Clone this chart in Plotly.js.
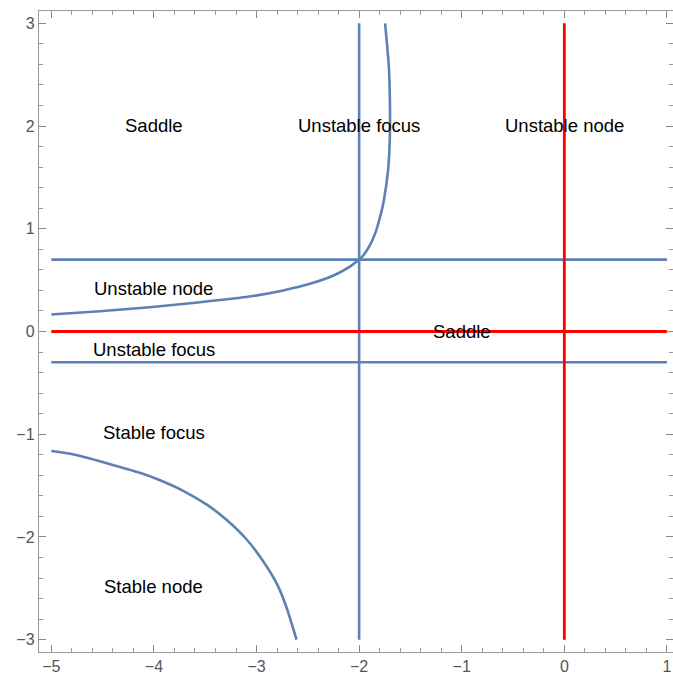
<!DOCTYPE html>
<html>
<head>
<meta charset="utf-8">
<script src="https://cdn.plot.ly/plotly-3.0.1.min.js"></script>
<style>html,body{margin:0;padding:0;background:#fff;}#chart{width:673px;height:677px;}</style>
</head>
<body>
<div id="chart"></div>
<script>
// Boundary curves
const upperCurveX = [-5.0, -4.527, -4.04, -3.55, -3.07, -2.74, -2.48, -2.25, -2.09, -2.0, -1.96, -1.90, -1.845, -1.80, -1.76, -1.715, -1.70, -1.70, -1.71, -1.747];
const upperCurveY = [0.165, 0.197, 0.236, 0.285, 0.34, 0.40, 0.464, 0.545, 0.632, 0.70, 0.74, 0.83, 0.95, 1.10, 1.27, 1.6, 1.92, 2.24, 2.57, 3.0];
const lowerCurveX = [-5.0, -4.78, -4.46, -4.13, -3.94, -3.71, -3.48, -3.29, -3.10, -2.94, -2.80, -2.71, -2.61];
const lowerCurveY = [-1.164, -1.198, -1.282, -1.378, -1.448, -1.553, -1.688, -1.835, -2.02, -2.23, -2.46, -2.68, -3.0];

// Straight boundary lines
const blueHorizontalY = [0.7, -0.3];
const blueVerticalX = [-2];
const redHorizontalY = [0];
const redVerticalX = [0];
const xSpan = [-5, 1];
const ySpan = [-3, 3];

// Region labels
const labelText = ["Saddle", "Unstable focus", "Unstable node", "Unstable node", "Saddle", "Unstable focus", "Stable focus", "Stable node"];
const labelX = [-4, -2, 0, -4, -1, -4, -4, -4];
const labelY = [2.01, 2.01, 2.01, 0.42, 0.0, -0.18, -0.98, -2.48];

const xTicks = [-5, -4, -3, -2, -1, 0, 1];
const yTicks = [-3, -2, -1, 0, 1, 2, 3];

const blue = '#5E81B5';
const red = '#FF0000';
const traces = [];
blueHorizontalY.forEach(v => traces.push({x: xSpan, y: [v, v], mode: 'lines', line: {color: blue, width: 2.6}, hoverinfo: 'skip'}));
blueVerticalX.forEach(v => traces.push({x: [v, v], y: ySpan, mode: 'lines', line: {color: blue, width: 2.6}, hoverinfo: 'skip'}));
traces.push({x: upperCurveX, y: upperCurveY, mode: 'lines', line: {color: blue, width: 2.6, shape: 'spline', smoothing: 0.7}, hoverinfo: 'skip'});
traces.push({x: lowerCurveX, y: lowerCurveY, mode: 'lines', line: {color: blue, width: 2.6, shape: 'spline', smoothing: 0.7}, hoverinfo: 'skip'});
redHorizontalY.forEach(v => traces.push({x: xSpan, y: [v, v], mode: 'lines', line: {color: red, width: 2.8}, hoverinfo: 'skip'}));
redVerticalX.forEach(v => traces.push({x: [v, v], y: ySpan, mode: 'lines', line: {color: red, width: 2.8}, hoverinfo: 'skip'}));

const annotations = labelText.map((t, i) => ({
  x: labelX[i], y: labelY[i], text: t, showarrow: false,
  font: {family: 'Liberation Sans, Arial, sans-serif', size: 18.5, color: '#000'},
  xanchor: 'center', yanchor: 'middle'
}));

const axisCommon = {
  showgrid: false, zeroline: false, showline: true, linecolor: '#999', linewidth: 1.2,
  mirror: 'allticks', ticks: 'inside', ticklen: 7, tickwidth: 1, tickcolor: '#888',
  tickfont: {family: 'Liberation Sans, Arial, sans-serif', size: 16, color: '#555'},
  minor: {dtick: 0.2, ticks: 'inside', ticklen: 4, tickwidth: 1, tickcolor: '#999', showgrid: false},
  tickmode: 'array', fixedrange: true
};

const layout = {
  width: 673, height: 677,
  margin: {l: 39, r: 0, t: 11, b: 25},
  paper_bgcolor: '#fff', plot_bgcolor: '#fff',
  showlegend: false,
  xaxis: Object.assign({}, axisCommon, {range: [-5.12, 1.059], tickvals: xTicks, ticktext: xTicks.map(v => v < 0 ? '\u2212' + Math.abs(v) : String(v))}),
  yaxis: Object.assign({}, axisCommon, {range: [-3.12, 3.12], tickvals: yTicks, ticktext: yTicks.map(v => v < 0 ? '\u2212' + Math.abs(v) : String(v))}),
  annotations: annotations
};

Plotly.newPlot('chart', traces, layout, {staticPlot: true, displayModeBar: false});
</script>
</body>
</html>
